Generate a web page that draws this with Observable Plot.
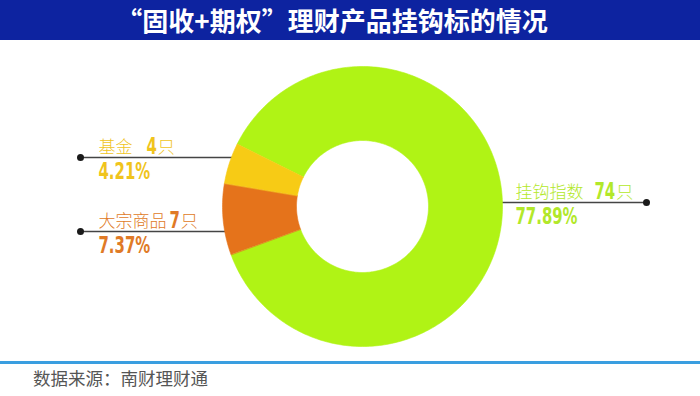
<!DOCTYPE html>
<html><head><meta charset="utf-8">
<script src="https://cdn.jsdelivr.net/npm/d3@7"></script>
<script src="https://cdn.jsdelivr.net/npm/@observablehq/plot@0.6"></script>
<style>
body{margin:0;background:#fff;width:700px;height:396px;overflow:hidden;font-family:"Noto Sans CJK SC",sans-serif}
#title{height:40px;background:#0d23a0;color:#fff;font-weight:700;font-size:26px;line-height:40px;text-align:center;padding-right:36px;box-sizing:border-box}
#chart{height:321px}
#chart svg{display:block}
#foot{border-top:3px solid #3a9ee0;padding-left:33px;padding-top:3px;font-size:17.5px;line-height:22px;color:#555}
</style></head><body>
<div id="title">“固收+期权”理财产品挂钩标的情况</div>
<div id="chart"></div>
<div id="foot">数据来源：南财理财通</div>
<script>
// ---- data ----
const categories = ["挂钩指数", "大宗商品", "基金"];
const counts = [74, 7, 4];
const percents = [77.89, 7.37, 4.21];
const unit = "只";

// ---- styles / layout ----
const sliceColors = ["#b0f315", "#e5731b", "#f7cb15"];
const textColors = ["#b2e82a", "#e07a26", "#f0c41c"];
const W = 700, H = 321;
const cx = 362, cy = 166, R = 140, r0 = 66;
const startDeg = -63.5;
const labelLayout = [
  {side: "right", lineY: 162, dotX: 646, textX: 515, gap: 11},
  {side: "left",  lineY: 191, dotX: 80,  textX: 98,  gap: 3},
  {side: "left",  lineY: 117, dotX: 80,  textX: 98,  gap: 14}
];
const nameFont = "17px 'Noto Sans CJK SC'";
const numFamily = "'DejaVu Sans Condensed','DejaVu Sans',sans-serif";
const numFont = "bold 23px " + numFamily;
const numScale = 0.72;

const ctx = document.createElement("canvas").getContext("2d");
function measure(t, f) { ctx.font = f; return ctx.measureText(t).width; }

// slices
const arcs = d3.pie().sort(null)
  .startAngle(startDeg * Math.PI / 180)
  .endAngle(startDeg * Math.PI / 180 + 2 * Math.PI)(counts);
const slicePts = [];
arcs.forEach((p, i) => {
  const n = Math.max(8, Math.ceil((p.endAngle - p.startAngle) / (Math.PI / 180)));
  for (let k = 0; k <= n; k++) {
    const a = p.startAngle + (p.endAngle - p.startAngle) * k / n;
    slicePts.push({key: categories[i], x: cx + R * Math.sin(a), y: cy - R * Math.cos(a)});
  }
  for (let k = n; k >= 0; k--) {
    const a = p.startAngle + (p.endAngle - p.startAngle) * k / n;
    slicePts.push({key: categories[i], x: cx + r0 * Math.sin(a), y: cy - r0 * Math.cos(a)});
  }
});

// labels
const labels = categories.map((c, i) => {
  const L = labelLayout[i];
  const dy = L.lineY - cy;
  const edge = Math.sqrt(Math.max(0, R * R - dy * dy)) - 2;
  const x2 = L.side === "left" ? cx - edge : cx + edge;
  const nameW = measure(c, nameFont);
  const numX = L.textX + nameW + L.gap;
  const numW = measure(String(counts[i]), numFont) * numScale;
  return {
    key: c, name: c, num: String(counts[i]), pct: percents[i].toFixed(2) + "%",
    lineY: L.lineY, dotX: L.dotX, x2, textX: L.textX, numX, unitX: numX + numW + 1
  };
});

const plot = Plot.plot({
  width: W, height: H, margin: 0,
  x: {domain: [0, W], range: [0, W], axis: null},
  y: {domain: [0, H], range: [0, H], axis: null},
  color: {domain: categories, range: sliceColors},
  marks: [
    Plot.link(labels, {x1: "dotX", y1: "lineY", x2: "x2", y2: "lineY", stroke: "#444", strokeWidth: 1.5}),
    Plot.dot(labels, {x: "dotX", y: "lineY", r: 3.5, fill: "#1a1a1a", stroke: "none"}),
    Plot.line(slicePts, {x: "x", y: "y", z: "key", fill: "key", stroke: "key", strokeWidth: 0.6, curve: "linear-closed"}),
    Plot.text(labels, {x: "textX", y: d => d.lineY - 5, text: "name", textAnchor: "start", lineAnchor: "bottom",
      fill: (d, i) => textColors[i], fontSize: 17, fontWeight: 300, fontFamily: "Noto Sans CJK SC"}),
    Plot.text(labels, {x: "numX", y: d => d.lineY - 4, text: "num", textAnchor: "start", lineAnchor: "bottom",
      fill: (d, i) => textColors[i], fontSize: 23, fontWeight: "bold", fontFamily: numFamily, className: "numtext"}),
    Plot.text(labels, {x: "unitX", y: d => d.lineY - 5, text: () => unit, textAnchor: "start", lineAnchor: "bottom",
      fill: (d, i) => textColors[i], fontSize: 17, fontWeight: 300, fontFamily: "Noto Sans CJK SC"}),
    Plot.text(labels, {x: "textX", y: d => d.lineY + 21, text: "pct", textAnchor: "start", lineAnchor: "bottom",
      fill: (d, i) => textColors[i], fontSize: 23, fontWeight: "bold", fontFamily: numFamily, className: "numtext"})
  ]
});
// condense the bold numerals horizontally (Impact-like look)
d3.select(plot).selectAll(".numtext text").each(function () {
  const t = this.getAttribute("transform") || "";
  this.setAttribute("transform", t + ` scale(${numScale},1)`);
});
document.getElementById("chart").appendChild(plot);
</script>
</body></html>
